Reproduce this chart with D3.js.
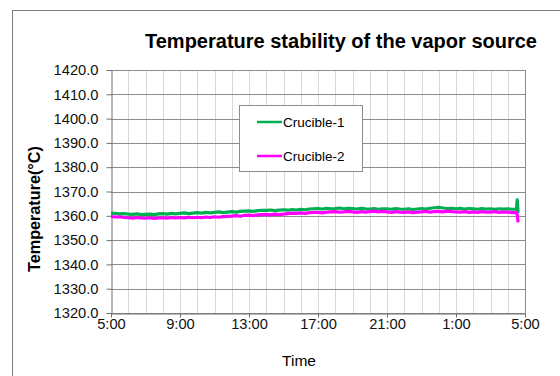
<!DOCTYPE html>
<html><head><meta charset="utf-8">
<script src="https://cdn.jsdelivr.net/npm/d3@7/dist/d3.min.js"></script>
<style>body{margin:0;background:#fff}svg{display:block}text{font-family:"Liberation Sans",Arial,sans-serif}</style>
</head><body><svg id="c" width="560" height="376"></svg>
<script>
// time in hours after 5:00
const timeHours = [0,0.25,0.5,0.75,1,1.25,1.5,1.75,2,2.25,2.5,2.75,3,3.25,3.5,3.75,4,4.25,4.5,4.75,5,5.25,5.5,5.75,6,6.25,6.5,6.75,7,7.25,7.5,7.75,8,8.25,8.5,8.75,9,9.25,9.5,9.75,10,10.25,10.5,10.75,11,11.25,11.5,11.75,12,12.25,12.5,12.75,13,13.25,13.5,13.75,14,14.25,14.5,14.75,15,15.25,15.5,15.75,16,16.25,16.5,16.75,17,17.25,17.5,17.75,18,18.25,18.5,18.75,19,19.25,19.5,19.75,20,20.25,20.5,20.75,21,21.25,21.5,21.75,22,22.25,22.5,22.75,23,23.25,23.5,23.55,23.6];
const crucible1 = [1361.1,1361.0,1360.8,1360.9,1360.7,1360.6,1360.8,1360.5,1360.6,1360.7,1360.5,1360.8,1360.9,1360.7,1361.0,1360.8,1361.0,1361.2,1360.9,1361.1,1361.3,1361.1,1361.4,1361.2,1361.4,1361.6,1361.3,1361.5,1361.7,1361.5,1361.8,1361.9,1362.0,1361.8,1362.1,1362.2,1362.2,1362.4,1362.1,1362.3,1362.5,1362.3,1362.6,1362.4,1362.7,1362.5,1362.8,1362.9,1363.0,1362.8,1363.1,1362.9,1363.0,1363.2,1362.9,1363.1,1363.0,1362.8,1363.1,1362.9,1362.8,1363.0,1362.7,1362.9,1362.9,1362.7,1363.0,1362.8,1362.7,1362.9,1362.6,1362.8,1363.0,1362.8,1363.1,1363.3,1363.5,1363.2,1363.0,1363.1,1362.9,1363.1,1362.8,1363.0,1362.9,1362.7,1363.0,1362.8,1362.9,1362.7,1362.9,1362.8,1362.9,1362.7,1362.8,1366.6,1361.2];
const crucible2 = [1359.7,1359.5,1359.6,1359.3,1359.2,1359.0,1359.3,1359.1,1359.0,1359.2,1358.9,1359.1,1359.2,1359.0,1359.3,1359.1,1359.3,1359.1,1359.4,1359.2,1359.4,1359.2,1359.5,1359.3,1359.6,1359.4,1359.7,1359.8,1359.9,1360.1,1359.8,1360.2,1360.3,1360.1,1360.4,1360.5,1360.6,1360.4,1360.7,1360.5,1360.7,1360.9,1361.1,1361.0,1361.2,1361.0,1361.3,1361.4,1361.4,1361.2,1361.5,1361.6,1361.7,1361.5,1361.6,1361.8,1361.6,1361.4,1361.7,1361.5,1361.7,1361.9,1361.6,1361.8,1361.6,1361.4,1361.7,1361.5,1361.4,1361.6,1361.3,1361.5,1361.6,1361.8,1361.5,1361.7,1361.8,1361.6,1361.9,1361.7,1361.6,1361.5,1361.7,1361.4,1361.6,1361.4,1361.7,1361.5,1361.5,1361.7,1361.4,1361.6,1361.5,1361.3,1361.4,1360.5,1357.3];
const seriesNames = ["Crucible-1","Crucible-2"];
const seriesColors = ["#00b050","#ff00ff"];
const xTickHours = [0,4,8,12,16,20,24];
const xTickLabels = ["5:00","9:00","13:00","17:00","21:00","1:00","5:00"];
const yTicks = [1320,1330,1340,1350,1360,1370,1380,1390,1400,1410,1420];

const svg = d3.select("#c");
const L=111,R=525,T=70,B=313;
const x = d3.scaleLinear().domain([0,24]).range([L,R]);
const y = d3.scaleLinear().domain([1320,1420]).range([B,T]);

svg.append("rect").attr("x",12.5).attr("y",10.5).attr("width",600).attr("height",400)
  .attr("fill","none").attr("stroke","#7f7f7f").attr("stroke-width",1);

svg.append("text").attr("x",341).attr("y",48).attr("text-anchor","middle")
  .attr("font-size",20).attr("font-weight","bold").text("Temperature stability of the vapor source");

// vertical hourly grid
svg.append("g").selectAll("line").data(d3.range(1,24)).join("line")
  .attr("x1",d=>Math.round(x(d))+0.5).attr("x2",d=>Math.round(x(d))+0.5)
  .attr("y1",T).attr("y2",B).attr("stroke","#d9d9d9");
// horizontal grid
svg.append("g").selectAll("line").data(yTicks).join("line")
  .attr("x1",L).attr("x2",R).attr("y1",d=>Math.round(y(d))+0.5).attr("y2",d=>Math.round(y(d))+0.5)
  .attr("stroke","#8c8c8c");
svg.append("line").attr("x1",Math.round(R)+0.5).attr("x2",Math.round(R)+0.5).attr("y1",T).attr("y2",B).attr("stroke","#8c8c8c");

const xAxis = svg.append("g").attr("transform",`translate(0,${Math.round(B)+0.5})`)
  .call(d3.axisBottom(x).tickValues(xTickHours).tickFormat((d,i)=>xTickLabels[i]).tickSize(4).tickSizeOuter(0));
const yAxis = svg.append("g").attr("transform",`translate(${Math.round(L)+0.5},0)`)
  .call(d3.axisLeft(y).tickValues(yTicks).tickFormat(d3.format(".1f")).tickSize(5).tickSizeOuter(0));
[xAxis,yAxis].forEach(a=>{
  a.select(".domain").attr("stroke","#6e6e6e");
  a.selectAll(".tick line").attr("stroke","#6e6e6e");
  a.selectAll("text").attr("font-size",14.7).attr("fill","#111").attr("font-family","Liberation Sans, Arial, sans-serif");
});
xAxis.selectAll("text").attr("dy","0.71em").attr("y",5);
yAxis.selectAll("text").attr("x",-13);

const line = d3.line().x((d,i)=>x(timeHours[i])).y(d=>y(d));
[crucible1,crucible2].forEach((s,k)=>{
  svg.append("path").datum(s).attr("d",line).attr("fill","none")
    .attr("stroke",seriesColors[k]).attr("stroke-width",3.2).attr("stroke-linejoin","round");
});

svg.append("text").attr("transform","translate(40,209) rotate(-90)").attr("text-anchor","middle")
  .attr("font-size",16.2).attr("font-weight","bold").text("Temperature(°C)");
svg.append("text").attr("x",299).attr("y",365.5).attr("text-anchor","middle").attr("font-size",15.5).text("Time");

// legend
const lg = svg.append("g");
lg.append("rect").attr("x",239.5).attr("y",105.5).attr("width",123).attr("height",66)
  .attr("fill","#fff").attr("stroke","#8c8c8c");
seriesNames.forEach((n,k)=>{
  const yy = 122 + k*34;
  lg.append("line").attr("x1",257).attr("x2",282).attr("y1",yy).attr("y2",yy).attr("stroke",seriesColors[k]).attr("stroke-width",2.5);
  lg.append("text").attr("x",283).attr("y",yy+5).attr("font-size",13.5).text(n);
});
</script></body></html>
